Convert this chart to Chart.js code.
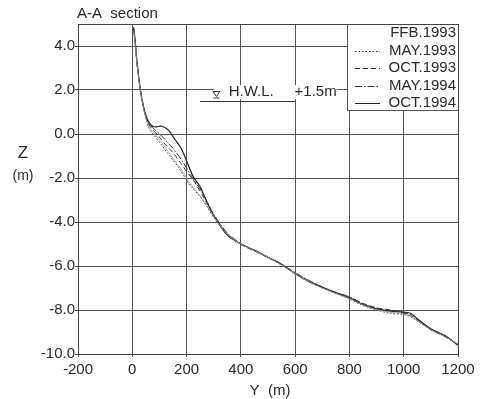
<!DOCTYPE html>
<html>
<head>
<meta charset="utf-8">
<script src="https://cdn.jsdelivr.net/npm/chart.js@4/dist/chart.umd.min.js"></script>
<style>
  html, body { margin: 0; padding: 0; background: #fff; }
</style>
</head>
<body>
<canvas id="grafico-seccion" width="486" height="399"></canvas>
<script>
// Datos (Y = distancia en m, Z = cota en m)
const distancias = [5, 10, 18, 30, 45, 60, 75, 90, 105, 120, 135, 150, 165, 180, 200, 225, 250, 275, 300,
  350, 400, 450, 500, 550, 600, 650, 700, 750, 800, 850, 900, 950, 1000, 1025, 1050, 1100, 1150, 1200];

const feb1993 = [4.7, 4.2, 3.1, 1.95, 0.95, 0.35, 0.1, -0.1, -0.35, -0.6, -0.85, -1.1, -1.35, -1.6, -2.0, -2.45, -2.8, -3.25, -3.75,
  -4.55, -5.0, -5.3, -5.6, -5.95, -6.35, -6.7, -7.0, -7.25, -7.48, -7.78, -7.98, -8.1, -8.18, -8.28, -8.48, -8.9, -9.2, -9.55];
const may1993 = [4.7, 4.2, 3.1, 1.95, 1.0, 0.3, 0.02, -0.2, -0.45, -0.7, -0.95, -1.2, -1.42, -1.7, -2.1, -2.5, -2.85, -3.3, -3.8,
  -4.55, -5.0, -5.3, -5.62, -5.95, -6.35, -6.72, -7.0, -7.25, -7.5, -7.8, -8.0, -8.15, -8.2, -8.3, -8.5, -8.9, -9.2, -9.55];
const oct1993 = [4.75, 4.25, 3.15, 2.0, 1.0, 0.45, 0.2, 0.0, -0.22, -0.45, -0.65, -0.85, -1.1, -1.35, -1.7, -2.1, -2.6, -3.15, -3.7,
  -4.55, -5.02, -5.32, -5.6, -5.95, -6.33, -6.68, -6.98, -7.2, -7.42, -7.7, -7.9, -8.0, -8.15, -8.25, -8.45, -8.9, -9.2, -9.55];
const may1994 = [4.8, 4.3, 3.2, 2.0, 1.05, 0.5, 0.28, 0.12, -0.05, -0.25, -0.45, -0.65, -0.9, -1.15, -1.55, -2.05, -2.5, -3.05, -3.65,
  -4.5, -4.98, -5.3, -5.6, -5.92, -6.3, -6.65, -6.95, -7.2, -7.4, -7.72, -7.92, -8.02, -8.12, -8.2, -8.4, -8.88, -9.18, -9.58];
const oct1994 = [4.85, 4.3, 3.2, 2.0, 1.05, 0.55, 0.35, 0.32, 0.36, 0.3, 0.15, -0.12, -0.38, -0.65, -1.22, -1.95, -2.4, -3.1, -3.7,
  -4.6, -5.0, -5.28, -5.6, -5.92, -6.35, -6.7, -6.97, -7.22, -7.45, -7.75, -7.95, -8.05, -8.1, -8.15, -8.4, -8.85, -9.15, -9.6];

const etiquetas = ['FFB.1993', 'MAY.1993', 'OCT.1993', 'MAY.1994', 'OCT.1994'];
const ticksY = [-200, 0, 200, 400, 600, 800, 1000, 1200];
const ticksZ = [4, 2, 0, -2, -4, -6, -8, -10];

// Nivel H.W.L.
const hwlTramo = [250, 600];
const hwlNivel = 1.5;

const fuente = '"Liberation Sans", Arial, sans-serif';
const colorTexto = '#2a2a2a';
const colorGrilla = '#555';

const puntos = (zs) => distancias.map((y, i) => ({ x: y, y: zs[i] }));

// Plugin que dibuja marco, titulos, leyenda y H.W.L.
const extras = {
  id: 'extras',
  afterDatasetsDraw(chart) {
    const { ctx, chartArea, scales } = chart;
    const sx = scales.x, sz = scales.y;
    ctx.save();

    // H.W.L.
    ctx.font = `15px ${fuente}`;
    ctx.textBaseline = 'middle';
    ctx.textAlign = 'left';
    const tx1 = sx.getPixelForValue(355);
    const tx2 = sx.getPixelForValue(598);
    const ty = sz.getPixelForValue(1.9);
    const w2 = ctx.measureText('+1.5m').width;
    ctx.fillStyle = '#fff';
    ctx.fillRect(sx.getPixelForValue(300), ty - 7, tx2 + w2 - sx.getPixelForValue(300), 14);
    ctx.fillStyle = colorTexto;
    ctx.fillText('H.W.L.', tx1, ty);
    ctx.fillText('+1.5m', tx2, ty);

    const yh = Math.round(sz.getPixelForValue(hwlNivel)) + 0.5;
    ctx.strokeStyle = '#333';
    ctx.lineWidth = 1;
    ctx.beginPath();
    ctx.moveTo(sx.getPixelForValue(hwlTramo[0]), yh);
    ctx.lineTo(sx.getPixelForValue(hwlTramo[1]), yh);
    ctx.stroke();

    // triangulo
    const cx = sx.getPixelForValue(310);
    ctx.beginPath();
    ctx.moveTo(cx - 3.5, yh - 10);
    ctx.lineTo(cx + 3.5, yh - 10);
    ctx.lineTo(cx, yh - 5);
    ctx.closePath();
    ctx.stroke();
    ctx.beginPath();
    ctx.moveTo(cx - 3, yh - 3.5);
    ctx.lineTo(cx + 3, yh - 3.5);
    ctx.stroke();

    // leyenda
    const lx0 = chartArea.right - 111, ly0 = chartArea.top, lx1 = chartArea.right, ly1 = chartArea.top + 86;
    ctx.fillStyle = '#fff';
    ctx.fillRect(lx0, ly0, lx1 - lx0, ly1 - ly0);
    ctx.strokeStyle = '#555';
    ctx.strokeRect(Math.round(lx0) + 0.5, ly0 + 0.5, lx1 - lx0, ly1 - ly0);
    ctx.font = `15px ${fuente}`;
    ctx.textAlign = 'right';
    chart.data.datasets.forEach((ds, i) => {
      const yy = ly0 + 9 + i * 17.5;
      ctx.fillStyle = colorTexto;
      ctx.fillText(ds.label, lx1 - 2, yy);
      if (i > 0) {
        ctx.strokeStyle = ds.borderColor;
        ctx.setLineDash(ds.borderDash || []);
        ctx.beginPath();
        ctx.moveTo(lx0 + 8, Math.round(yy) + 0.5);
        ctx.lineTo(lx0 + 33, Math.round(yy) + 0.5);
        ctx.stroke();
        ctx.setLineDash([]);
      }
    });

    // marco
    ctx.strokeStyle = '#444';
    ctx.strokeRect(Math.round(chartArea.left) + 0.5, Math.round(chartArea.top) + 0.5,
      Math.round(chartArea.right - chartArea.left), Math.round(chartArea.bottom - chartArea.top));

    // titulos
    ctx.fillStyle = colorTexto;
    ctx.textAlign = 'left';
    ctx.font = `15px ${fuente}`;
    ctx.fillText('A-A  section', chartArea.left - 1, 14);
    ctx.textAlign = 'center';
    ctx.fillText('Y  (m)', (chartArea.left + chartArea.right) / 2 + 2, 391);
    ctx.font = `17px ${fuente}`;
    ctx.fillText('Z', 23, 153);
    ctx.font = `14px ${fuente}`;
    ctx.fillText('(m)', 23, 176);
    ctx.restore();
  }
};

const estilos = [
  { color: '#999', dash: [], ancho: 0.8 },
  { color: '#333', dash: [1.5, 2], ancho: 1 },
  { color: '#333', dash: [5, 3], ancho: 1 },
  { color: '#333', dash: [7, 2, 1.5, 2], ancho: 1 },
  { color: '#222', dash: [], ancho: 1.2 }
];

const crearGrafico = () => {
  const series = [feb1993, may1993, oct1993, may1994, oct1994];
  const data = {
    datasets: series.map((zs, i) => ({
      label: etiquetas[i],
      data: puntos(zs),
      borderColor: estilos[i].color,
      borderDash: estilos[i].dash,
      borderWidth: estilos[i].ancho,
      pointRadius: 0,
      tension: 0.3,
      fill: false
    }))
  };
  const config = {
    type: 'line',
    data: data,
    options: {
      responsive: false,
      animation: false,
      devicePixelRatio: 1,
      layout: { padding: { top: 24, right: 28, left: 0, bottom: 0 } },
      plugins: { legend: { display: false }, tooltip: { enabled: false } },
      scales: {
        x: {
          type: 'linear',
          min: -200,
          max: 1200,
          afterBuildTicks: (s) => { s.ticks = ticksY.map(v => ({ value: v })); },
          afterFit: (s) => { s.height = 45; },
          grid: { color: colorGrilla, lineWidth: 1, tickLength: 3 },
          border: { color: '#444' },
          ticks: {
            color: colorTexto,
            font: { family: fuente, size: 15 },
            padding: 4,
            maxRotation: 0,
            callback: (v) => String(v)
          }
        },
        y: {
          type: 'linear',
          min: -10,
          max: 5,
          afterBuildTicks: (s) => { s.ticks = ticksZ.map(v => ({ value: v })); },
          afterFit: (s) => { s.width = 78; },
          grid: { color: colorGrilla, lineWidth: 1, tickLength: 3 },
          border: { color: '#444' },
          ticks: {
            color: colorTexto,
            font: { family: fuente, size: 15 },
            padding: 0,
            callback: (v) => Number(v).toFixed(1)
          }
        }
      }
    },
    plugins: [extras]
  };
  new Chart(document.querySelector('#grafico-seccion').getContext('2d'), config);
};

crearGrafico();
</script>
</body>
</html>
